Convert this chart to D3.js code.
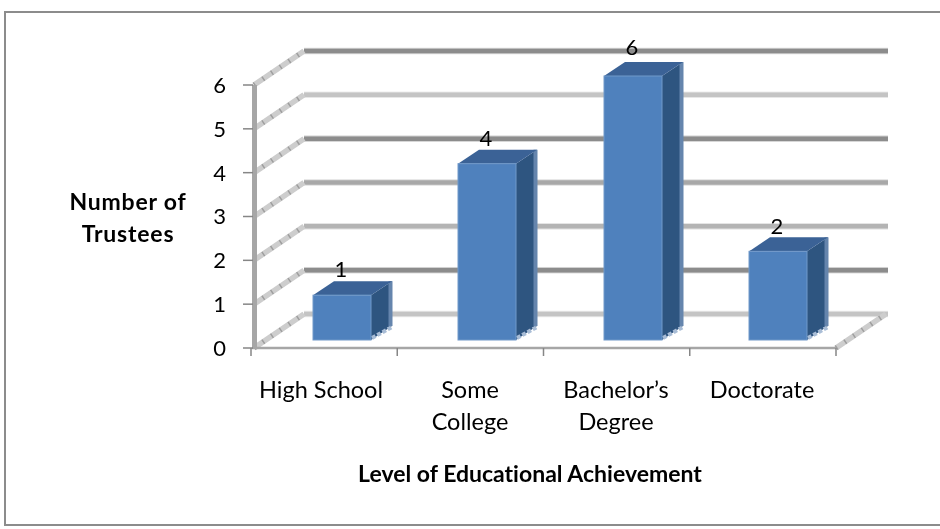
<!DOCTYPE html>
<html><head><meta charset="utf-8">
<script src="https://cdn.jsdelivr.net/npm/d3@7"></script>
<style>html,body{margin:0;background:#fff;overflow:hidden}svg{display:block}text{font-family:Lato,"Open Sans",sans-serif;fill:#000;font-variant-ligatures:none}</style>
</head><body><svg id="c" width="940" height="529"></svg>
<script>
const categories = [["High School"],["Some","College"],["Bachelor’s","Degree"],["Doctorate"]];
const values = [1,4,6,2];
const yTicks = [0,1,2,3,4,5,6];
const gridColors = ["#c4c4c4","#8c8c8c","#b4b4b4","#a8a8a8","#8c8c8c","#c4c4c4","#8c8c8c"];
const xTitle = "Level of Educational Achievement";
const yTitle = ["Number of","Trustees"];

const svg = d3.select("#c");
const defs = svg.append("defs");
defs.append("filter").attr("id","soft").append("feGaussianBlur").attr("stdDeviation",0.45);
svg.append("rect").attr("x",5).attr("y",12).attr("width",945).attr("height",513).attr("fill","#fff").attr("stroke","#8c8c8c").attr("stroke-width",2);

const root = svg.append("g").attr("filter","url(#soft)");
const dx=50, dy=-34;
const yAxis = d3.scaleLinear().domain([0,6]).range([348,85]);
const xCat = d3.scaleLinear().domain([0,4]).range([251,836]);
const yBar = d3.scaleLinear().domain([0,6]).range([339,76]);
const barW=58, bx=21, by=-14;

const g=root.append("g");
yTicks.forEach((t,i)=>{
  const y=yAxis(t)+dy;
  g.append("rect").attr("x",304).attr("y",y-3.2).attr("width",584).attr("height",6.4).attr("fill",gridColors[i]).attr("opacity",.4);
  g.append("line").attr("x1",304).attr("x2",888).attr("y1",y).attr("y2",y).attr("stroke",gridColors[i]).attr("stroke-width",4.5);
});
function hatched(x0,y0){
  g.append("line").attr("x1",x0).attr("y1",y0).attr("x2",x0+dx).attr("y2",y0+dy).attr("stroke","#cdcdcd").attr("stroke-width",5.5);
  g.append("line").attr("x1",x0).attr("y1",y0).attr("x2",x0+dx).attr("y2",y0+dy).attr("stroke","#8f8f8f").attr("stroke-width",5).attr("stroke-dasharray","1.5 9").attr("opacity",.75);
}
yTicks.forEach(t=>hatched(254,yAxis(t)));
hatched(836,yAxis(0));

g.append("line").attr("x1",254.5).attr("x2",254.5).attr("y1",85).attr("y2",349).attr("stroke","#a6a6a6").attr("stroke-width",5);
g.append("line").attr("x1",252).attr("x2",836).attr("y1",348).attr("y2",348).attr("stroke","#a6a6a6").attr("stroke-width",2.5);
yTicks.forEach(t=>{
  const y=yAxis(t);
  g.append("line").attr("x1",243).attr("x2",253).attr("y1",y).attr("y2",y).attr("stroke","#868686").attr("stroke-width",1.5);
  svg.append("text").attr("x",226).attr("y",y).attr("dy","0.36em").attr("text-anchor","end").attr("font-size",22).text(t);
});
d3.range(5).forEach(i=>{
  const x=xCat(i);
  g.append("line").attr("x1",x).attr("x2",x).attr("y1",348).attr("y2",356).attr("stroke","#868686").attr("stroke-width",1.5);
});

const barX=[313,458,604,749];
const labelLift=[4,4,7,3];
const catX=[321,470,616,762];
values.forEach((v,i)=>{
  const x=barX[i], yt=yBar(v), yb=yBar(0)+1;
  const b=root.append("g");
  b.append("path").attr("d",`M${x+barW},${yt}L${x+barW+bx},${yt+by}L${x+barW+bx},${yb+by}L${x+barW},${yb}Z`).attr("fill","#2f5480");
  b.append("line").attr("x1",x+barW+bx-1.5).attr("x2",x+barW+bx-1.5).attr("y1",yt+by).attr("y2",yb+by).attr("stroke","#6585ad").attr("stroke-width",4);
  b.append("line").attr("x1",x+barW+1).attr("y1",yb-2).attr("x2",x+barW+bx).attr("y2",yb+by+1).attr("stroke","#a9bdd6").attr("stroke-width",4).attr("stroke-dasharray","4 2");
  b.append("path").attr("d",`M${x},${yt}L${x+bx},${yt+by}L${x+barW+bx},${yt+by}L${x+barW},${yt}Z`).attr("fill","#3a6296");
  b.append("rect").attr("x",x).attr("y",yt).attr("width",barW).attr("height",yb-yt).attr("fill","#4f81bd").attr("stroke","#7199c9").attr("stroke-width",1);
  svg.append("text").attr("x",x+barW/2-1).attr("y",yt+by-labelLift[i]).attr("text-anchor","middle").attr("font-size",22).text(v);
  categories[i].forEach((l,j)=>{
    svg.append("text").attr("x",catX[i]).attr("y",398+j*32).attr("text-anchor","middle").attr("font-size",23.5).text(l);
  });
});
svg.append("text").attr("x",530).attr("y",482).attr("text-anchor","middle").attr("font-size",23).attr("font-weight",700).text(xTitle);
yTitle.forEach((l,j)=>svg.append("text").attr("x",128).attr("y",210+j*32).attr("text-anchor","middle").attr("font-size",23).attr("font-weight",700).attr("letter-spacing",0.8).text(l));
</script></body></html>
